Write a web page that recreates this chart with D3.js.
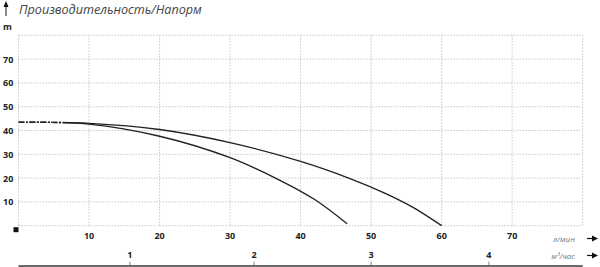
<!DOCTYPE html>
<html>
<head>
<meta charset="utf-8">
<script src="https://cdn.jsdelivr.net/npm/d3@7"></script>
<style>
  body { margin: 0; background: #fff; }
  svg { display: block; }
</style>
</head>
<body>
<div id="chart"></div>
<script>
// flow in l/min, head in m
var flowTicks = [10, 20, 30, 40, 50, 60, 70]
var headTicks = [10, 20, 30, 40, 50, 60, 70]
var gridX = [0, 10, 20, 30, 40, 50, 60, 70, 80]
var gridY = [0, 10, 20, 30, 40, 50, 60, 70, 80]
// m3/h labels and where they sit on the l/min scale (as drawn in the picture)
var m3Labels = ['1', '2', '3', '4']
var m3Flow = [15.8, 33.4, 50, 66.7]

var curveA = [ // lower curve
  [0, 43.5], [10, 42.7], [20, 37.6], [30, 28.6], [37, 19.2], [42, 11.0], [46.6, 0.8]
]
var curveB = [ // upper curve
  [0, 43.5], [10, 43.0], [20, 40.4], [30, 34.9], [40, 27.0], [47, 19.8],
  [52, 13.6], [56, 7.6], [60, 0]
]
var dashEnd = 6

var w = 600
var h = 267

var svg = d3.select('#chart')
  .append('svg')
  .attr('width', w)
  .attr('height', h)

var x = d3.scaleLinear().domain([0, 80]).range([18.5, 582.7])
var y = d3.scaleLinear().domain([0, 80]).range([225.7, 35.3])

// grid
svg.selectAll('.gx')
  .data(gridX)
  .enter()
  .append('line')
  .attr('x1', function (d) { return x(d) })
  .attr('x2', function (d) { return x(d) })
  .attr('y1', y(0))
  .attr('y2', y(80))
  .attr('stroke', '#c8c8c8')
  .attr('stroke-width', 1)
  .attr('stroke-dasharray', '1.5,1.5')

svg.selectAll('.gy')
  .data(gridY)
  .enter()
  .append('line')
  .attr('x1', x(0))
  .attr('x2', x(80))
  .attr('y1', function (d) { return y(d) })
  .attr('y2', function (d) { return y(d) })
  .attr('stroke', '#c8c8c8')
  .attr('stroke-width', 1)
  .attr('stroke-dasharray', '1.5,1.5')

// y labels
svg.selectAll('.yl')
  .data(headTicks)
  .enter()
  .append('text')
  .attr('x', 3)
  .attr('y', function (d) { return y(d) + 3.5 })
  .attr('font-family', 'Open Sans, sans-serif')
  .attr('font-weight', 'bold')
  .attr('font-size', 9)
  .attr('fill', '#222')
  .text(function (d) { return d })

svg.append('text')
  .attr('x', 3)
  .attr('y', 30)
  .attr('font-family', 'Open Sans, sans-serif')
  .attr('font-weight', 'bold')
  .attr('font-size', 9)
  .attr('fill', '#222')
  .text('m')

// x labels
svg.selectAll('.xl')
  .data(flowTicks)
  .enter()
  .append('text')
  .attr('x', function (d) { return x(d) })
  .attr('y', 239)
  .attr('text-anchor', 'middle')
  .attr('font-family', 'Open Sans, sans-serif')
  .attr('font-weight', 'bold')
  .attr('font-size', 9)
  .attr('fill', '#222')
  .text(function (d) { return d })

// origin square
svg.append('rect')
  .attr('x', x(0) - 5)
  .attr('y', y(0) + 1.5)
  .attr('width', 5)
  .attr('height', 5)
  .attr('fill', '#111')

// second axis m3/h
svg.append('line')
  .attr('x1', x(0))
  .attr('x2', x(80))
  .attr('y1', 266)
  .attr('y2', 266)
  .attr('stroke', '#6a6a6a')
  .attr('stroke-width', 2)

svg.selectAll('.mt')
  .data(m3Flow)
  .enter()
  .append('line')
  .attr('x1', function (d) { return x(d) })
  .attr('x2', function (d) { return x(d) })
  .attr('y1', 261.5)
  .attr('y2', 265)
  .attr('stroke', '#888')
  .attr('stroke-width', 1)

svg.selectAll('.ml')
  .data(m3Flow)
  .enter()
  .append('text')
  .attr('x', function (d) { return x(d) })
  .attr('y', 257.5)
  .attr('text-anchor', 'middle')
  .attr('font-family', 'Open Sans, sans-serif')
  .attr('font-weight', 'bold')
  .attr('font-size', 9)
  .attr('fill', '#222')
  .text(function (d, i) { return m3Labels[i] })

// unit labels + arrows
var units = [['л/мин', 238.5], ['м³/час', 255.5]]
units.forEach(function (u) {
  svg.append('text')
    .attr('x', 575)
    .attr('y', u[1] + 3)
    .attr('text-anchor', 'end')
    .attr('font-family', 'Open Sans, sans-serif')
    .attr('font-style', 'italic')
    .attr('font-size', 8)
    .attr('fill', '#777')
    .text(u[0])
  svg.append('line')
    .attr('x1', 587)
    .attr('x2', 594)
    .attr('y1', u[1])
    .attr('y2', u[1])
    .attr('stroke', '#111')
    .attr('stroke-width', 1.2)
  svg.append('path')
    .attr('d', 'M592,' + (u[1] - 3) + 'L598,' + u[1] + 'L592,' + (u[1] + 3) + 'Z')
    .attr('fill', '#111')
})

// title + up arrow
svg.append('line')
  .attr('x1', 6)
  .attr('x2', 6)
  .attr('y1', 16)
  .attr('y2', 6)
  .attr('stroke', '#111')
  .attr('stroke-width', 1)
svg.append('path')
  .attr('d', 'M3.5,7L6,1L8.5,7Z')
  .attr('fill', '#111')

svg.append('text')
  .attr('x', 19)
  .attr('y', 13.5)
  .attr('font-family', 'Open Sans, sans-serif')
  .attr('font-style', 'italic')
  .attr('font-size', 12.6)
  .attr('fill', '#444')
  .text('Производительность/Напорм')

// curves
var lineFunction = d3.line()
  .x(function (d) { return x(d[0]) })
  .y(function (d) { return y(d[1]) })
  .curve(d3.curveCatmullRom.alpha(0.5))

// dash-dot for the first few l/min, then solid
var dashLen = x(dashEnd) - x(0)
var pattern = []
for (var run = 0; run < dashLen; run += 11) {
  pattern.push(6, 1.5, 2, 1.5)
}
pattern.push(3000, 0)

function drawCurve (pts) {
  svg.append('path')
    .attr('d', lineFunction(pts))
    .attr('fill', 'none')
    .attr('stroke', '#222')
    .attr('stroke-width', 1.4)
    .attr('stroke-dasharray', pattern.join(','))
}

drawCurve(curveA)
drawCurve(curveB)
</script>
</body>
</html>
